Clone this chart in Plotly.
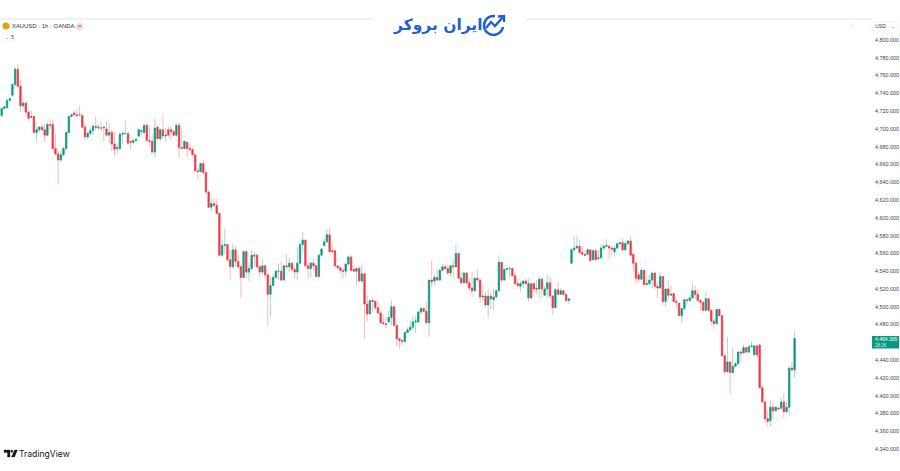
import plotly.graph_objects as go

open_ = [
4715,4723,4724,4732,4738,4750,4767,4748,4726,4729,
4719,4713,4714,4696,4699,4702,4699,4693,4705,4705,
4678,4672,4665,4671,4678,4696,4714,4718,4716,4716,
4715,4702,4691,4695,4698,4703,4701,4701,4701,4700,
4693,4696,4683,4678,4678,4694,4695,4695,4686,4685,
4687,4692,4697,4696,4704,4687,4686,4674,4702,4689,
4699,4692,4699,4699,4697,4693,4704,4679,4678,4685,
4678,4677,4671,4653,4652,4661,4651,4629,4612,4616,
4614,4605,4558,4569,4570,4553,4545,4564,4551,4545,
4533,4562,4539,4543,4558,4558,4545,4539,4546,4536,
4514,4524,4533,4540,4540,4530,4546,4545,4549,4542,
4539,4549,4570,4575,4546,4543,4549,4546,4534,4558,
4569,4573,4581,4563,4563,4546,4544,4541,4540,4548,
4556,4542,4540,4543,4529,4537,4503,4492,4507,4506,
4499,4493,4482,4481,4483,4488,4500,4479,4464,4462,
4461,4471,4474,4477,4483,4483,4494,4498,4495,4482,
4530,4529,4533,4530,4541,4545,4543,4538,4546,4545,
4560,4532,4527,4538,4527,4521,4518,4532,4530,4511,
4512,4502,4512,4508,4511,4518,4550,4530,4542,4543,
4543,4535,4526,4523,4526,4529,4510,4526,4526,4521,
4520,4531,4513,4520,4527,4512,4499,4519,4514,4518,
4514,4507,4549,4564,4566,4568,4561,4559,4559,4564,
4553,4563,4554,4555,4566,4568,4568,4566,4562,4566,
4571,4572,4564,4571,4574,4559,4549,4536,4531,4541,
4525,4526,4530,4538,4523,4521,4534,4506,4520,4513,
4515,4506,4504,4490,4498,4508,4507,4510,4518,4514,
4507,4505,4496,4509,4496,4484,4481,4497,4490,4445,
4427,4438,4426,4433,4436,4449,4448,4454,4449,4455,
4446,4456,4457,4409,4393,4374,4372,4387,4383,4386,
4386,4393,4382,4387,4431,4429]

high = [
4724,4726,4734,4736,4751,4770,4773,4755,4733,4731,
4721,4721,4714,4703,4703,4707,4706,4708,4712,4710,
4695,4676,4676,4680,4697,4716,4717,4721,4723,4726,
4717,4706,4697,4702,4705,4714,4706,4708,4703,4709,
4707,4699,4697,4684,4696,4697,4709,4695,4687,4688,
4691,4701,4699,4705,4706,4702,4693,4712,4704,4701,
4717,4701,4703,4704,4699,4706,4707,4701,4687,4686,
4684,4678,4672,4656,4662,4665,4653,4631,4622,4622,
4621,4605,4575,4588,4571,4564,4571,4569,4558,4547,
4564,4564,4549,4564,4562,4560,4547,4554,4547,4537,
4534,4536,4542,4549,4551,4547,4559,4555,4551,4545,
4567,4573,4584,4575,4551,4551,4554,4547,4559,4566,
4577,4588,4589,4571,4564,4547,4545,4543,4549,4557,
4558,4547,4545,4546,4547,4537,4513,4508,4510,4507,
4507,4496,4491,4489,4496,4507,4502,4480,4465,4464,
4472,4477,4485,4489,4490,4496,4500,4499,4506,4531,
4552,4536,4543,4543,4548,4549,4547,4547,4553,4570,
4560,4539,4539,4539,4532,4539,4533,4542,4531,4524,
4517,4520,4517,4520,4520,4558,4551,4543,4544,4545,
4544,4539,4532,4529,4529,4532,4532,4526,4527,4530,
4534,4534,4523,4536,4534,4513,4521,4527,4521,4519,
4514,4509,4566,4580,4580,4576,4568,4564,4566,4565,
4565,4565,4564,4570,4571,4576,4570,4568,4568,4572,
4573,4577,4573,4575,4579,4560,4550,4539,4544,4542,
4535,4536,4538,4538,4527,4539,4535,4521,4530,4524,
4515,4509,4505,4499,4509,4509,4513,4527,4524,4520,
4509,4506,4517,4510,4497,4487,4498,4498,4490,4446,
4466,4438,4454,4438,4451,4451,4457,4455,4457,4461,
4456,4457,4458,4412,4394,4384,4395,4392,4388,4388,
4397,4403,4393,4433,4438,4473]

low = [
4714,4722,4723,4731,4736,4747,4747,4719,4723,4714,
4709,4713,4695,4686,4697,4697,4685,4692,4699,4676,
4670,4638,4663,4669,4676,4695,4713,4714,4713,4714,
4701,4687,4688,4693,4693,4699,4698,4697,4686,4692,
4684,4675,4669,4672,4676,4684,4694,4682,4676,4683,
4686,4691,4693,4695,4685,4680,4672,4668,4688,4686,
4689,4686,4691,4687,4692,4691,4667,4678,4677,4669,
4674,4669,4652,4643,4651,4648,4627,4612,4607,4612,
4605,4556,4556,4560,4551,4531,4543,4545,4543,4510,
4532,4532,4529,4541,4545,4543,4533,4536,4532,4479,
4489,4523,4532,4530,4529,4530,4543,4539,4539,4532,
4530,4549,4561,4545,4531,4533,4541,4534,4534,4556,
4568,4572,4561,4561,4545,4542,4537,4532,4534,4546,
4540,4539,4524,4528,4527,4464,4484,4492,4494,4496,
4492,4481,4480,4476,4482,4479,4478,4455,4453,4457,
4459,4471,4472,4474,4471,4482,4492,4494,4481,4466,
4522,4524,4529,4529,4541,4541,4536,4534,4533,4544,
4531,4526,4526,4524,4518,4511,4518,4530,4504,4506,
4499,4488,4497,4496,4509,4518,4526,4530,4541,4532,
4534,4524,4520,4517,4521,4524,4506,4508,4515,4514,
4510,4510,4512,4509,4509,4491,4499,4513,4513,4513,
4505,4503,4548,4563,4566,4560,4558,4558,4558,4551,
4551,4551,4553,4554,4564,4567,4553,4558,4557,4564,
4568,4562,4564,4570,4556,4538,4526,4527,4530,4523,
4524,4524,4521,4519,4511,4521,4502,4500,4509,4512,
4505,4498,4490,4482,4496,4503,4505,4509,4509,4506,
4496,4495,4495,4494,4479,4475,4481,4489,4444,4424,
4426,4401,4425,4433,4434,4438,4448,4448,4448,4455,
4445,4442,4409,4392,4369,4365,4366,4373,4382,4385,
4384,4374,4380,4378,4427,4420]

close = [
4723,4725,4732,4734,4750,4767,4748,4726,4729,4719,
4712,4714,4696,4699,4702,4699,4693,4705,4704,4678,
4672,4665,4671,4678,4696,4714,4716,4716,4715,4716,
4702,4691,4695,4698,4703,4702,4702,4701,4702,4693,
4696,4683,4677,4679,4694,4695,4695,4684,4685,4687,
4688,4699,4698,4704,4687,4686,4674,4701,4689,4699,
4692,4693,4693,4697,4693,4704,4679,4678,4686,4678,
4677,4671,4653,4652,4661,4651,4629,4612,4616,4614,
4605,4558,4569,4570,4553,4545,4564,4551,4545,4533,
4562,4539,4543,4558,4557,4545,4539,4546,4536,4514,
4524,4533,4540,4540,4530,4546,4545,4549,4542,4539,
4549,4570,4575,4546,4543,4549,4546,4534,4558,4565,
4573,4581,4562,4562,4546,4544,4541,4540,4548,4556,
4541,4540,4543,4529,4537,4503,4492,4507,4506,4499,
4493,4482,4481,4480,4488,4500,4479,4464,4462,4461,
4471,4474,4477,4483,4484,4494,4498,4495,4482,4530,
4528,4533,4530,4541,4545,4543,4538,4546,4545,4560,
4532,4527,4538,4527,4521,4518,4532,4530,4511,4512,
4502,4512,4509,4511,4518,4550,4530,4542,4543,4543,
4535,4526,4524,4526,4529,4526,4526,4510,4520,4520,
4531,4520,4520,4527,4512,4499,4519,4514,4518,4514,
4507,4509,4564,4566,4568,4561,4559,4558,4564,4552,
4563,4553,4555,4566,4568,4569,4566,4565,4566,4571,
4572,4564,4571,4574,4558,4549,4532,4531,4541,4525,
4526,4530,4538,4523,4521,4534,4506,4520,4513,4514,
4506,4505,4490,4498,4508,4507,4510,4518,4514,4507,
4505,4496,4509,4496,4484,4481,4497,4490,4445,4427,
4438,4426,4433,4436,4449,4448,4454,4449,4455,4456,
4456,4446,4409,4393,4374,4371,4387,4383,4387,4385,
4393,4382,4387,4431,4429,4464.395]

tick_vals = list(range(4340, 4801, 20))
tick_text = [f"{v:,}.000" for v in tick_vals]
last_price_label = "4,464.395"
countdown_label = "28:26"
title_label = "XAUUSD · 1h · OANDA"
currency_label = "USD"
broker_label = "ایران بروکر"
vendor_label = "TradingView"

UP, DOWN = "#089981", "#f23645"
UP_W, DOWN_W = "#a6d8d0", "#fbb8bd"
W, H = 900, 471

x = list(range(len(close)))
body_top = [max(o, c) for o, c in zip(open_, close)]
body_bot = [min(o, c) for o, c in zip(open_, close)]

fig = go.Figure()
# thin pale wicks
fig.add_trace(go.Candlestick(
    x=x, open=open_, high=high, low=low, close=close, whiskerwidth=0,
    increasing=dict(line=dict(color=UP_W, width=1), fillcolor=UP_W),
    decreasing=dict(line=dict(color=DOWN_W, width=1), fillcolor=DOWN_W),
    showlegend=False, hoverinfo="skip"))
# solid bodies
fig.add_trace(go.Candlestick(
    x=x, open=open_, high=body_top, low=body_bot, close=close, whiskerwidth=0,
    increasing=dict(line=dict(color=UP, width=0.6), fillcolor=UP),
    decreasing=dict(line=dict(color=DOWN, width=0.6), fillcolor=DOWN),
    showlegend=False, hoverinfo="skip"))

def px(v): return v / W
def py(v): return 1 - v / H

def rect(x0, y0, x1, y1, fill, line=None, kind="rect", lw=1):
    return dict(type=kind, xref="paper", yref="paper", x0=px(x0), x1=px(x1), y0=py(y0), y1=py(y1),
                fillcolor=fill, line=dict(color=line or "rgba(0,0,0,0)", width=lw if line else 0), layer="above")

def path(points, color, width=1.5, fill="rgba(0,0,0,0)", closed=False):
    d = "M" + " L".join(f"{px(a):.5f},{py(b):.5f}" for a, b in points) + (" Z" if closed else "")
    return dict(type="path", xref="paper", yref="paper", path=d, fillcolor=fill,
                line=dict(color=color, width=width), layer="above")

BLUE = "#1f5fd6"
shapes = [
    rect(0, 18, 373, 19.5, "#ececec"),
    rect(525, 18, 873, 19.5, "#ececec"),
    rect(2.5, 22.5, 9.5, 29.5, "#dfa30f", kind="circle"),
    rect(76, 23, 83, 30, "#fbd9e2", kind="circle"),
    rect(3, 33, 15, 41, "#ffffff", "#eeeeee", lw=0.7),
    rect(872, 22, 898, 32, "#ffffff", "#eeeeee", lw=0.7),
    rect(872, 336, 899, 348.5, UP),
    # broker logo
    rect(484, 16, 503, 35, "rgba(0,0,0,0)", BLUE, kind="circle", lw=2.4),
    rect(495, 12, 508, 27, "#ffffff"),
    path([(486, 28), (491, 22), (495, 26), (503, 17)], BLUE, 2.4),
    path([(498, 16.5), (504, 16), (504, 22)], BLUE, 2.4),
    # vendor logo
    path([(4, 450), (10, 450), (10, 457), (7.5, 457), (7.5, 452.5), (4, 452.5)], "#131722", 0.3, "#131722", True),
    rect(10.5, 450, 13, 452.5, "#131722", kind="circle"),
    path([(14.5, 450), (17.5, 450), (14.5, 457), (11.5, 457)], "#131722", 0.3, "#131722", True),
]

def label(xp, yp, text, size, color="#3c4043", anchor="left", family="Liberation Sans", bold=False):
    return dict(xref="paper", yref="paper", x=px(xp), y=py(yp), text=f"<b>{text}</b>" if bold else text,
                showarrow=False, xanchor=anchor, yanchor="middle", borderpad=0, borderwidth=0,
                font=dict(family=family, size=size, color=color))

annotations = [
    label(11.5, 26.5, title_label, 5.9, "#30343c"),
    label(79.5, 26.5, "=", 6, "#d0325b", "center"),
    label(5, 37, "⌄", 5, "#555555"),
    label(10.5, 37, "5", 5.5, "#555555"),
    label(874.5, 26.5, currency_label, 5.2, "#444444"),
    label(895, 26.5, "⌄", 4.5, "#666666", "right"),
    label(852, 26, "+", 7, "#dddddd", "center"),
    label(875, 339, last_price_label, 5.0, "#ffffff"),
    label(875, 345, countdown_label, 4.5, "#d5f1ec"),
    label(437, 25, broker_label, 15.5, BLUE, "center", "DejaVu Sans", True),
    label(19, 453.5, vendor_label, 8.6, "#131722", family="Inter", bold=False),
]

fig.update_layout(
    width=W, height=H, margin=dict(l=0, r=0, t=0, b=0), autosize=False,
    paper_bgcolor="#ffffff", plot_bgcolor="#ffffff", showlegend=False,
    xaxis=dict(domain=[0, 872 / W], range=[-0.62, 323.8], visible=False, rangeslider=dict(visible=False),
               fixedrange=True),
    yaxis=dict(side="right", range=[4315.3, 4845], tickmode="array", tickvals=tick_vals, ticktext=tick_text,
               showgrid=False, zeroline=False, showline=False, ticks="", anchor="x", ticklabelstandoff=2,
               tickfont=dict(family="Liberation Sans", size=5.4, color="#40444c"), ticklabelposition="outside",
               automargin=False, fixedrange=True),
    shapes=shapes, annotations=annotations,
)
fig.write_html("out.html", config=dict(displayModeBar=False),
               post_script="document.body.style.margin='0';document.body.style.overflow='hidden';")
